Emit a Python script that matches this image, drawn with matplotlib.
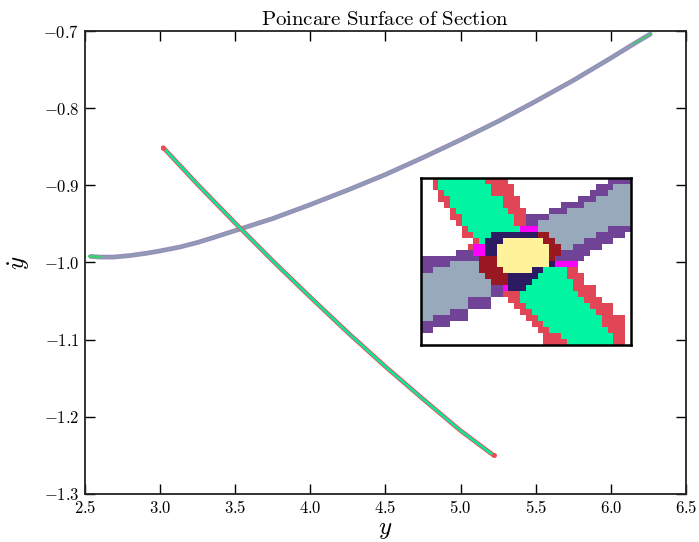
import numpy as np
import matplotlib
matplotlib.use("Agg")
import matplotlib.pyplot as plt
from matplotlib.colors import ListedColormap

plt.rcParams['mathtext.fontset'] = 'cm'
plt.rcParams['font.family'] = ['DejaVu Serif']

# band with the gray/purple look
curve_x = [2.53, 2.6, 2.69, 2.8, 2.91, 3.0, 3.13, 3.25, 3.35, 3.51, 3.75, 4.0, 4.25, 4.5,
           4.75, 5.0, 5.25, 5.5, 5.75, 6.0, 6.15, 6.27]
curve_y = [-0.992, -0.993, -0.993, -0.991, -0.988, -0.985, -0.980, -0.974, -0.968, -0.958,
           -0.943, -0.925, -0.906, -0.886, -0.864, -0.841, -0.817, -0.791, -0.764, -0.735,
           -0.717, -0.703]

# red/green band
line_x = [3.02, 3.25, 3.5, 3.75, 4.0, 4.25, 4.5, 4.75, 5.0, 5.22]
line_y = [-0.851, -0.899, -0.949, -0.998, -1.045, -1.091, -1.135, -1.177, -1.218, -1.250]

xticks = [2.5, 3.0, 3.5, 4.0, 4.5, 5.0, 5.5, 6.0, 6.5]
xtick_labels = ['2.5', '3.0', '3.5', '4.0', '4.5', '5.0', '5.5', '6.0', '6.5']
yticks = [-1.3, -1.2, -1.1, -1.0, -0.9, -0.8, -0.7]
ytick_labels = ['-1.3', '-1.2', '-1.1', '-1.0', '-0.9', '-0.8', '-0.7']

# inset picture, run-length rows: colour letter + count
inset_codes = ['W', 'R', 'G', 'P', 'B', 'M', 'N', 'D', 'Y']
inset_colors = ['#ffffff', '#e04656', '#00f5a3', '#704396', '#98a9bb',
                '#ff00ff', '#2c1a62', '#9a1822', '#fff29a']
inset_rows = [
    "W2 R1 G8 R4 W17 P4",
    "W2 R1 G9 R4 W14 P3 B3",
    "W3 R1 G8 R4 W13 P3 B4",
    "W3 R2 G9 R3 W10 P3 B6",
    "W4 R1 G9 R3 W7 P4 B8",
    "W5 R1 G9 R3 W4 P3 B11",
    "W5 R2 G9 R2 P4 B14",
    "W6 R1 G9 R2 P2 B16",
    "W7 R1 G9 M3 B12 P4",
    "W7 R2 G3 N8 D2 B8 P5 W1",
    "W9 R1 G1 N3 Y7 D2 B5 P5 W3",
    "W8 R1 M2 N2 Y9 D2 B2 P5 W5",
    "W6 P3 M2 N2 Y9 D2 P5 W7",
    "P10 D3 Y9 D1 P5 W8",
    "P5 B5 D3 Y9 N1 M4 W9",
    "P2 B8 D4 Y5 N2 G4 R2 W9",
    "B11 D4 N5 G5 R3 W8",
    "B12 D3 N4 G7 R2 W8",
    "B12 P2 M1 N3 G8 R4 W6",
    "B12 P2 R3 G10 R3 W6",
    "B8 P4 W3 R2 G11 R3 W5",
    "B8 P4 W4 R2 G11 R4 W3",
    "B5 P3 W9 R2 G11 R3 W3",
    "B2 P6 W10 R2 G11 R4 W1",
    "P5 W14 R2 G10 R4 W1",
    "P2 W18 R2 G10 R3 W1",
    "W21 R3 G9 R2 W1",
    "W21 R4 G8 R2 W1",
]


def decode(row):
    out = []
    for run in row.split():
        out += [inset_codes.index(run[0])] * int(run[1:])
    return out


grid = np.array([decode(r) for r in inset_rows])

fig = plt.figure(figsize=(6.99, 5.42), dpi=100)
ax = fig.add_axes([0.1216, 0.0886, 0.8598, 0.8542])

# main curves
ax.plot(curve_x, curve_y, color='#6c5c9c', lw=3.4, alpha=0.7, solid_capstyle='butt')
ax.plot(curve_x, curve_y, color='#8e9db6', lw=1.6, solid_capstyle='butt')
ax.plot(curve_x[:2], curve_y[:2], color='#3ccf6e', lw=2.0)
ax.plot(curve_x[-2:], curve_y[-2:], color='#3ccf6e', lw=1.5, alpha=0.8)

ax.plot(line_x, line_y, color='#ee4a52', lw=3.2, solid_capstyle='round')
ax.plot(line_x, line_y, color='#10e39a', lw=2.0, solid_capstyle='butt')
ax.plot(line_x[:1] + line_x[-1:], line_y[:1] + line_y[-1:], 'o', color='#ee4a52', ms=2.5)

ax.set_xlim(2.5, 6.5)
ax.set_ylim(-1.3, -0.7)
ax.set_xticks(xticks)
ax.set_xticklabels(['$' + t + '$' for t in xtick_labels], fontsize=12)
ax.set_yticks(yticks)
ax.set_yticklabels(['$' + t + '$' for t in ytick_labels], fontsize=12)
ax.tick_params(direction='in', length=7, width=1, top=True, right=True, pad=4)
for s in ax.spines.values():
    s.set_linewidth(1.3)
    s.set_color('#222222')

ax.set_xlabel('$y$', fontsize=18, labelpad=1)
ax.set_ylabel(r'$\dot{y}$', fontsize=18, labelpad=8)
ax.set_title(r'$\mathrm{Poincare\ Surface\ of\ Section}$', fontsize=15, pad=4)

# inset
ins = fig.add_axes([0.6023, 0.3635, 0.3004, 0.3081])
ins.imshow(grid, cmap=ListedColormap(inset_colors), vmin=-0.5, vmax=len(inset_colors) - 0.5,
           interpolation='nearest', aspect='auto')
ins.set_xticks([])
ins.set_yticks([])
for s in ins.spines.values():
    s.set_linewidth(1.8)
    s.set_color('black')

fig.savefig('out.png', dpi=100)
